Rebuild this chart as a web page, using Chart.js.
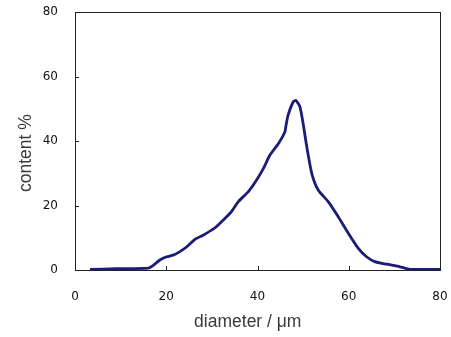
<!DOCTYPE html>
<html>
<head>
<meta charset="utf-8">
<script src="https://cdn.jsdelivr.net/npm/chart.js@4/dist/chart.umd.min.js"></script>
<style>
  html, body { margin: 0; padding: 0; background: #fff; }
  #wrap { width: 451px; height: 337px; }
</style>
</head>
<body>
<div id="wrap"><canvas id="chart"></canvas></div>
<script>
// values
const diameter = [3.3, 9.1, 16.1, 17.2, 18.6, 20.1, 21.5, 23.0, 24.5, 26.3, 28.1, 30.7, 32.5, 34.3,
    35.8, 38.0, 39.8, 41.3, 42.7, 44.6, 46.0, 46.2, 46.7, 47.8, 48.4, 49.3, 50.0, 50.8, 51.9,
    53.3, 55.5, 57.7, 59.9, 62.1, 63.9, 65.7, 68.3, 71.2, 73.4, 80];
const content = [0.2, 0.4, 0.6, 1.5, 3.1, 4.1, 4.6, 5.7, 7.2, 9.5, 10.8, 13.1, 15.5, 18.1,
    21.2, 24.3, 27.9, 31.5, 35.6, 39.2, 42.8, 44.4, 48.0, 52.1, 52.6, 50.6, 45.4, 38.2, 29.9,
    24.8, 21.2, 16.5, 11.4, 6.7, 4.1, 2.6, 1.8, 1.0, 0.2, 0.2];
const xTicks = [0, 20, 40, 60, 80];
const yTicks = [0, 20, 40, 60, 80];

const tickFont = { family: 'DejaVu Sans', size: 12 };
const titleFont = { family: 'Liberation Sans', size: 17.5 };

// frame around the plot and short inward tick marks
const framePlugin = {
    id: 'frame',
    afterDraw(chart) {
        const { ctx, chartArea: a, scales } = chart;
        ctx.save();
        ctx.strokeStyle = '#222';
        ctx.lineWidth = 1;
        ctx.strokeRect(a.left + 0.5, a.top + 0.5, a.right - a.left, a.bottom - a.top);
        ctx.beginPath();
        xTicks.slice(1, -1).forEach(v => {
            const x = Math.round(scales.x.getPixelForValue(v)) + 0.5;
            ctx.moveTo(x, a.bottom);
            ctx.lineTo(x, a.bottom - 4);
        });
        yTicks.slice(1, -1).forEach(v => {
            const y = Math.round(scales.y.getPixelForValue(v)) + 0.5;
            ctx.moveTo(a.left, y);
            ctx.lineTo(a.left + 4, y);
        });
        ctx.stroke();
        ctx.restore();
    }
};

new Chart(document.getElementById('chart'), {
    type: 'scatter',
    data: {
        datasets: [{
            label: 'content',
            data: diameter.map((d, i) => ({ x: d, y: content[i] })),
            showLine: true,
            borderColor: '#1b1b78',
            borderWidth: 2.8,
            pointRadius: 0,
            tension: 0.2
        }]
    },
    options: {
        responsive: true,
        maintainAspectRatio: false,
        animation: false,
        layout: { padding: { top: 12, right: 11, left: 0, bottom: 0 } },
        plugins: {
            legend: { display: false },
            tooltip: { enabled: false }
        },
        scales: {
            x: {
                type: 'linear',
                min: 0,
                max: 80,
                afterBuildTicks: (s) => { s.ticks = xTicks.map(v => ({ value: v })); },
                afterFit: (s) => { s.height = 67; s.paddingLeft = 0; s.paddingRight = 0; },
                grid: { display: false, drawTicks: false },
                border: { display: false },
                ticks: { font: tickFont, color: '#111', padding: 20, maxRotation: 0 },
                title: {
                    display: true,
                    // trailing spaces nudge the title left, as in the original
                    text: 'diameter / μm    ',
                    font: titleFont,
                    color: '#3a3a3a',
                    padding: { top: 0, bottom: 4 }
                }
            },
            y: {
                min: 0,
                max: 80,
                afterBuildTicks: (s) => { s.ticks = yTicks.map(v => ({ value: v })); },
                afterFit: (s) => { s.width = 75; s.paddingTop = 0; s.paddingBottom = 0; },
                grid: { display: false, drawTicks: false },
                border: { display: false },
                ticks: { font: tickFont, color: '#111', padding: 17 },
                title: {
                    display: true,
                    text: 'content %     ',
                    font: titleFont,
                    color: '#3a3a3a',
                    padding: { top: 16, bottom: 0 }
                }
            }
        }
    },
    plugins: [framePlugin]
});
</script>
</body>
</html>
